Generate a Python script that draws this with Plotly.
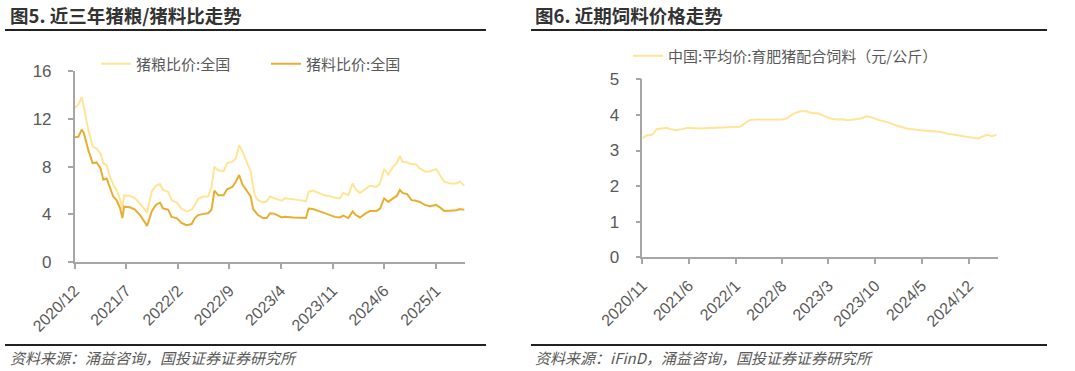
import plotly.graph_objects as go

# ---------------- data: left chart (猪粮比 / 猪料比) ----------------
left_dates = [
    "2020-12-01", "2020-12-16", "2020-12-30", "2021-01-08", "2021-01-26", "2021-02-13",
    "2021-03-02", "2021-03-18", "2021-03-29", "2021-04-12", "2021-04-25", "2021-05-09",
    "2021-05-23", "2021-06-07", "2021-06-16", "2021-06-23", "2021-07-17", "2021-08-07",
    "2021-08-28", "2021-09-17", "2021-09-26", "2021-10-15", "2021-11-01", "2021-11-18",
    "2021-12-01", "2021-12-22", "2022-01-05", "2022-01-26", "2022-02-15", "2022-03-08",
    "2022-03-29", "2022-04-11", "2022-04-25", "2022-05-16", "2022-06-05", "2022-06-19",
    "2022-07-01", "2022-07-17", "2022-08-08", "2022-08-22", "2022-09-13", "2022-09-28",
    "2022-10-11", "2022-10-25", "2022-11-14", "2022-11-28", "2022-12-08", "2022-12-15",
    "2022-12-28", "2023-01-18", "2023-02-02", "2023-02-16", "2023-03-08", "2023-04-05",
    "2023-04-18", "2023-05-22", "2023-06-19", "2023-07-14", "2023-07-25", "2023-08-12",
    "2023-09-03", "2023-09-30", "2023-10-25", "2023-11-11", "2023-12-01", "2023-12-15",
    "2024-01-05", "2024-01-23", "2024-02-05", "2024-02-22", "2024-03-14", "2024-04-03",
    "2024-05-01", "2024-05-15", "2024-06-01", "2024-06-18", "2024-07-08", "2024-07-23",
    "2024-08-05", "2024-08-16", "2024-09-04", "2024-09-22", "2024-10-10", "2024-10-26",
    "2024-11-16", "2024-12-07", "2025-01-01", "2025-01-17", "2025-02-04", "2025-02-28",
    "2025-03-27", "2025-04-10", "2025-04-28",
]
hog_grain = [
    12.9, 13.2, 13.8, 13.0, 11.1, 9.7, 9.5, 9.1, 8.3, 8.1, 7.2, 6.5,
    6.05, 5.2, 4.5, 5.6, 5.55, 5.35, 4.9, 4.4, 4.15, 5.9, 6.4, 6.55,
    6.05, 5.9, 5.2, 5.0, 4.5, 4.25, 4.4, 4.8, 5.3, 5.5, 5.5, 6.3,
    8.0, 7.7, 7.6, 8.3, 8.4, 8.7, 9.8, 9.25, 8.3, 7.6, 6.3, 5.6,
    5.2, 5.0, 5.1, 5.5, 5.35, 5.15, 5.35, 5.3, 5.2, 5.1, 5.9, 6.0,
    5.8, 5.6, 5.5, 5.4, 5.35, 5.8, 5.6, 6.6, 6.1, 5.8, 6.1, 6.4,
    6.3, 6.6, 7.8, 7.35, 8.0, 8.3, 8.9, 8.4, 8.35, 8.2, 8.2, 7.85,
    7.6, 7.6, 7.8, 7.3, 6.75, 6.6, 6.6, 6.75, 6.4,
]
hog_feed = [
    10.45, 10.5, 11.1, 10.8, 9.4, 8.3, 8.35, 7.85, 6.9, 7.0, 6.3, 5.5,
    5.2, 4.5, 3.7, 4.65, 4.6, 4.4, 3.95, 3.4, 3.05, 4.25, 4.8, 5.0,
    4.5, 4.4, 3.8, 3.7, 3.3, 3.1, 3.2, 3.7, 3.95, 4.05, 4.1, 4.4,
    6.0, 5.6, 5.6, 6.1, 6.3, 6.75, 7.3, 6.5, 5.9, 5.5, 4.45, 4.3,
    3.95, 3.7, 3.7, 4.1, 4.05, 3.75, 3.8, 3.75, 3.75, 3.7, 4.5, 4.45,
    4.3, 4.1, 3.9, 3.8, 3.75, 3.9, 3.7, 4.25, 3.95, 3.75, 4.05, 4.3,
    4.3, 4.5, 5.35, 5.05, 5.35, 5.55, 6.05, 5.8, 5.7, 5.2, 5.15, 5.05,
    4.8, 4.7, 4.8, 4.6, 4.3, 4.3, 4.35, 4.45, 4.4,
]
left_tickvals = ["2020-12-01", "2021-07-01", "2022-02-01", "2022-09-01",
                 "2023-04-01", "2023-11-01", "2024-06-01", "2025-01-01"]
left_ticktext = ["2020/12", "2021/7", "2022/2", "2022/9",
                 "2023/4", "2023/11", "2024/6", "2025/1"]
left_names = ["猪粮比价:全国", "猪料比价:全国"]

# ---------------- data: right chart (育肥猪配合饲料) ----------------
right_dates = [
    "2020-11-01", "2020-11-21", "2020-12-18", "2021-01-05", "2021-01-28", "2021-02-20",
    "2021-03-10", "2021-04-04", "2021-04-30", "2021-05-30", "2021-07-15", "2021-09-06",
    "2021-10-22", "2021-12-06", "2021-12-29", "2022-01-21", "2022-02-13", "2022-03-08",
    "2022-04-07", "2022-05-15", "2022-06-15", "2022-07-08", "2022-07-31", "2022-08-22",
    "2022-09-22", "2022-10-22", "2022-11-21", "2022-12-15", "2023-01-14", "2023-02-06",
    "2023-03-09", "2023-04-08", "2023-05-05", "2023-05-31", "2023-07-01", "2023-07-27",
    "2023-08-23", "2023-09-15", "2023-10-15", "2023-11-30", "2024-01-07", "2024-02-22",
    "2024-04-23", "2024-06-23", "2024-07-23", "2024-08-23", "2024-10-23", "2024-12-07",
    "2025-01-14", "2025-01-30", "2025-02-22", "2025-03-17", "2025-04-08",
]
feed_price = [
    3.35, 3.42, 3.45, 3.60, 3.62, 3.64, 3.60, 3.57, 3.60, 3.64, 3.62, 3.63,
    3.64, 3.65, 3.67, 3.67, 3.76, 3.86, 3.87, 3.87, 3.88, 3.88, 3.87, 3.90,
    4.03, 4.10, 4.10, 4.05, 4.04, 3.98, 3.90, 3.87, 3.88, 3.85, 3.88, 3.90,
    3.96, 3.93, 3.86, 3.79, 3.70, 3.62, 3.57, 3.55, 3.53, 3.48, 3.41, 3.37,
    3.34, 3.38, 3.44, 3.40, 3.44,
]
right_tickvals = ["2020-11-01", "2021-06-01", "2022-01-01", "2022-08-01",
                  "2023-03-01", "2023-10-01", "2024-05-01", "2024-12-01"]
right_ticktext = ["2020/11", "2021/6", "2022/1", "2022/8",
                  "2023/3", "2023/10", "2024/5", "2024/12"]
right_name = "中国:平均价:育肥猪配合饲料（元/公斤）"

titles = ["图5. 近三年猪粮/猪料比走势", "图6. 近期饲料价格走势"]
sources = ["资料来源：涌益咨询，国投证券证券研究所",
           "资料来源：iFinD，涌益咨询，国投证券证券研究所"]

# ---------------- styling ----------------
W, H = 1075, 371
LIGHT = "#FFE595"
DARK = "#E8AE30"
AXIS = "#A6A6A6"
YTICKFONT = dict(family="Liberation Sans, Arial", size=17, color="#595959")
XTICKFONT = dict(family="Liberation Sans, Arial", size=16, color="#595959")
CJK = "Noto Sans CJK SC"


def px(x):
    return x / W


def py(y):
    return 1 - y / H


fig = go.Figure()
fig.add_trace(go.Scatter(x=left_dates, y=hog_grain, name=left_names[0], mode="lines",
                         line=dict(color=LIGHT, width=2), xaxis="x", yaxis="y",
                         legend="legend"))
fig.add_trace(go.Scatter(x=left_dates, y=hog_feed, name=left_names[1], mode="lines",
                         line=dict(color=DARK, width=2), xaxis="x", yaxis="y",
                         legend="legend"))
fig.add_trace(go.Scatter(x=right_dates, y=feed_price, name=right_name, mode="lines",
                         line=dict(color=LIGHT, width=2), xaxis="x2", yaxis="y2",
                         legend="legend2"))

xcommon = dict(type="date", showgrid=False, zeroline=False, showline=True,
               linecolor=AXIS, linewidth=1.5, ticks="outside", ticklen=5,
               tickcolor=AXIS, tickwidth=1.5, tickangle=-45, tickfont=XTICKFONT,
               tickmode="array", automargin=False, ticklabelstandoff=6)
ycommon = dict(showgrid=False, zeroline=False, showline=True, linecolor=AXIS,
               linewidth=1.5, ticks="outside", ticklen=5, tickcolor=AXIS,
               tickwidth=1.5, tickfont=YTICKFONT, ticklabelstandoff=13,
               automargin=False)

fig.update_layout(
    width=W, height=H, margin=dict(l=0, r=0, t=0, b=0, autoexpand=False),
    paper_bgcolor="white", plot_bgcolor="white",
    xaxis=dict(xcommon, domain=[px(74.7), px(465)], anchor="y",
               range=["2020-12-01", "2025-05-01"],
               tickvals=left_tickvals, ticktext=left_ticktext),
    yaxis=dict(ycommon, domain=[py(262.3), py(71)], anchor="x",
               range=[0, 16], tickvals=[0, 4, 8, 12, 16]),
    xaxis2=dict(xcommon, domain=[px(642.3), px(997.7)], anchor="y2",
                range=["2020-11-01", "2025-04-13"],
                tickvals=right_tickvals, ticktext=right_ticktext),
    yaxis2=dict(ycommon, domain=[py(257.3), py(79.3)], anchor="x2",
                range=[0, 5], tickvals=[0, 1, 2, 3, 4, 5]),
    legend=dict(orientation="h", x=px(96), y=py(64), xanchor="left", yanchor="middle",
                entrywidth=125, entrywidthmode="pixels", bgcolor="rgba(0,0,0,0)",
                font=dict(family=CJK, size=15, color="#595959")),
    legend2=dict(orientation="h", x=px(628), y=py(56), xanchor="left", yanchor="middle",
                 bgcolor="rgba(0,0,0,0)",
                 font=dict(family=CJK, size=15, color="#595959")),
    showlegend=True,
)

# titles and source notes
for tx, text in zip([8, 533], titles):
    fig.add_annotation(x=px(tx), y=py(15), xref="paper", yref="paper", text=text,
                       showarrow=False, xanchor="left", yanchor="middle",
                       font=dict(family=CJK, size=18.5, color="#333333", weight="bold"))
for tx, text in zip([8, 533], sources):
    fig.add_annotation(x=px(tx), y=py(357), xref="paper", yref="paper", text=text,
                       showarrow=False, xanchor="left", yanchor="middle",
                       font=dict(family=CJK, size=15, color="#595959", style="italic"))

# rule lines under titles and above sources
for x0, x1 in [(5, 486), (531, 1047)]:
    for yy in (30, 345):
        fig.add_shape(type="line", xref="paper", yref="paper",
                      x0=px(x0), x1=px(x1), y0=py(yy), y1=py(yy),
                      line=dict(color="#222222", width=2))

fig.write_html("out.html", config={"displayModeBar": False},
               post_script="document.body.style.margin='0';document.body.style.overflow='hidden';")
